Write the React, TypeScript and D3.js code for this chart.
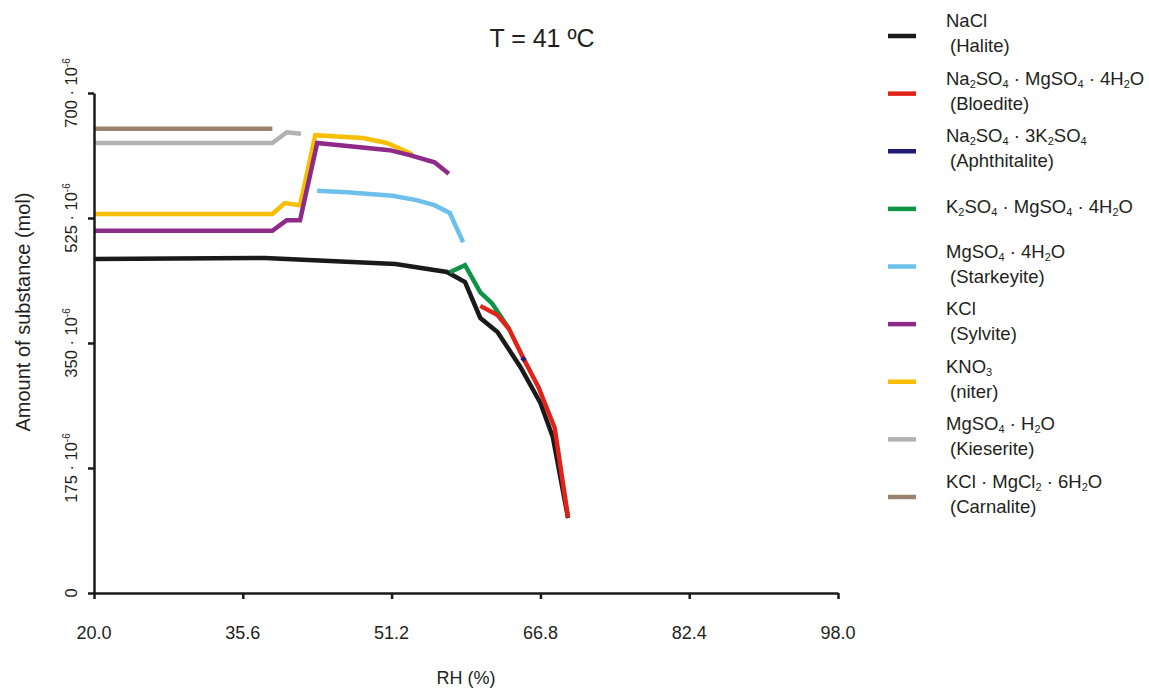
import React, { useEffect, useRef } from "react";
import * as d3 from "d3";

// RH (%) vs amount of substance (10^-6 mol)
const halite = [[20, 467.6], [37.9, 469], [51.6, 460.6], [57.0, 449.4], [58.9, 435.4], [60.5, 385], [62.3, 365.4], [64.7, 316.4], [66.8, 266], [68.1, 218.4], [69.7, 105]];
const bloedite = [[60.5, 402], [62.3, 389], [63.5, 370], [65.0, 329], [66.6, 288], [68.3, 231], [69.7, 106]];
const aphthitalite = [[64.85, 329.5], [65.2, 325.5]];
const leonite = [[57.3, 449], [58.9, 459], [60.5, 421], [61.7, 406], [63.5, 370]];
const starkeyite = [[43.4, 563], [46.5, 561], [51.3, 556], [53.8, 550], [55.7, 543], [57.3, 532], [58.7, 491]];
const sylvite = [[20, 507], [38.7, 507], [40.2, 522], [41.6, 522], [43.4, 630], [51.0, 620], [53.1, 613], [55.7, 603], [57.2, 587]];
const niter = [[20, 530.6], [38.7, 530.6], [40.0, 546], [41.6, 543], [43.2, 641], [48.2, 637], [50.7, 630], [52.4, 620], [53.4, 614]];
const kieserite = [[20, 630], [38.7, 630], [40.2, 645], [41.7, 643]];
const carnalite = [[20, 650], [38.7, 650]];

const xTicks = [20, 35.6, 51.2, 66.8, 82.4, 98];
const yTicks = [0, 175, 350, 525, 700];

// name uses _n for subscripts
const legendItems = [
  { name: "NaCl", mineral: "(Halite)", color: "#1a1a1a" },
  { name: "Na_2SO_4 · MgSO_4 · 4H_2O", mineral: "(Bloedite)", color: "#e2231a" },
  { name: "Na_2SO_4 · 3K_2SO_4", mineral: "(Aphthitalite)", color: "#1f1a74" },
  { name: "K_2SO_4 · MgSO_4 · 4H_2O", mineral: "", color: "#0f9447" },
  { name: "MgSO_4 · 4H_2O", mineral: "(Starkeyite)", color: "#6cc0eb" },
  { name: "KCl", mineral: "(Sylvite)", color: "#8e2a88" },
  { name: "KNO_3", mineral: "(niter)", color: "#f7bf00" },
  { name: "MgSO_4 · H_2O", mineral: "(Kieserite)", color: "#b2b2b2" },
  { name: "KCl · MgCl_2 · 6H_2O", mineral: "(Carnalite)", color: "#9b846f" },
];

// draw order (back to front)
const seriesOrder = [
  { data: carnalite, color: "#9b846f" },
  { data: kieserite, color: "#b2b2b2" },
  { data: niter, color: "#f7bf00" },
  { data: sylvite, color: "#8e2a88" },
  { data: starkeyite, color: "#6cc0eb" },
  { data: halite, color: "#1a1a1a" },
  { data: leonite, color: "#0f9447" },
  { data: bloedite, color: "#e2231a" },
  { data: aphthitalite, color: "#1f1a74" },
];

const font = "'Liberation Sans', Arial, sans-serif";
const ink = "#231f20";

const App = () => {
  const ref = useRef(null);

  useEffect(() => {
    drawChart();
  }, []);

  const drawChart = () => {
    const svg = d3.select(ref.current);
    svg.selectAll("*").remove();

    const x = d3.scaleLinear().domain([20, 98]).range([94, 838]);
    const y = d3.scaleLinear().domain([0, 700]).range([593, 93]);

    // title
    svg.append("text")
      .attr("x", 542).attr("y", 47)
      .attr("text-anchor", "middle")
      .attr("font-size", 25)
      .attr("font-family", font)
      .attr("fill", ink)
      .text("T = 41 ºC");

    // lines
    const line = d3.line().x((d) => x(d[0])).y((d) => y(d[1]));
    svg.append("g")
      .selectAll("path")
      .data(seriesOrder)
      .enter()
      .append("path")
      .attr("d", (d) => line(d.data))
      .attr("fill", "none")
      .attr("stroke", (d) => d.color)
      .attr("stroke-width", 4.5);

    // x axis
    const gx = svg.append("g")
      .attr("transform", `translate(0,${y(0)})`)
      .call(d3.axisBottom(x).tickValues(xTicks).tickSize(6).tickSizeOuter(0).tickFormat(""));
    gx.select(".domain").attr("stroke", "#1a1a1a").attr("stroke-width", 2.5);
    gx.selectAll(".tick line").attr("stroke", "#1a1a1a").attr("stroke-width", 2.5);

    svg.append("g")
      .selectAll("text")
      .data(xTicks)
      .enter()
      .append("text")
      .attr("x", (d) => x(d))
      .attr("y", 639)
      .attr("text-anchor", "middle")
      .attr("font-size", 18)
      .attr("font-family", font)
      .attr("fill", ink)
      .text((d) => d3.format(".1f")(d));

    // y axis
    const gy = svg.append("g")
      .attr("transform", `translate(${x(20)},0)`)
      .call(d3.axisLeft(y).tickValues(yTicks).tickSize(6).tickSizeOuter(0).tickFormat(""));
    gy.select(".domain").attr("stroke", "#1a1a1a").attr("stroke-width", 2.5);
    gy.selectAll(".tick line").attr("stroke", "#1a1a1a").attr("stroke-width", 2.5);

    const yl = svg.append("g")
      .selectAll("text")
      .data(yTicks)
      .enter()
      .append("text")
      .attr("transform", (d) => `translate(77,${y(d)}) rotate(-90)`)
      .attr("text-anchor", "middle")
      .attr("font-size", 16.5)
      .attr("font-family", font)
      .attr("fill", ink);
    yl.append("tspan").text((d) => (d === 0 ? "0" : `${d} · 10`));
    yl.filter((d) => d !== 0)
      .append("tspan")
      .attr("dy", -7)
      .attr("font-size", 10)
      .text("-6");

    // axis titles
    svg.append("text")
      .attr("transform", "translate(30,312) rotate(-90)")
      .attr("text-anchor", "middle")
      .attr("font-size", 20)
      .attr("font-family", font)
      .attr("fill", ink)
      .text("Amount of substance (mol)");

    svg.append("text")
      .attr("x", 466).attr("y", 684)
      .attr("text-anchor", "middle")
      .attr("font-size", 18)
      .attr("font-family", font)
      .attr("fill", ink)
      .text("RH (%)");

    // legend
    const legendY = d3.scalePoint().domain(legendItems.map((d) => d.name)).range([36, 497]);
    const lg = svg.append("g")
      .selectAll("g")
      .data(legendItems)
      .enter()
      .append("g")
      .attr("transform", (d) => `translate(0,${legendY(d.name)})`);

    lg.append("line")
      .attr("x1", 888).attr("x2", 916)
      .attr("stroke", (d) => d.color)
      .attr("stroke-width", 4.5);

    lg.each(function (d) {
      const g = d3.select(this);
      const t = g.append("text")
        .attr("x", 946)
        .attr("y", d.mineral ? -9 : 4)
        .attr("font-size", 18.5)
        .attr("font-family", font)
        .attr("fill", ink)
        .attr("xml:space", "preserve");
      const parts = d.name.split(/_(\d)/);
      let shifted = false;
      parts.forEach((p, i) => {
        if (!p) return;
        const sub = i % 2 === 1;
        const ts = t.append("tspan").text(p);
        if (sub) {
          ts.attr("font-size", 11).attr("dy", 3);
          shifted = true;
        } else if (shifted) {
          ts.attr("dy", -3);
          shifted = false;
        }
      });
      if (d.mineral) {
        g.append("text")
          .attr("x", 950)
          .attr("y", 16)
          .attr("font-size", 18.5)
          .attr("font-family", font)
          .attr("fill", ink)
          .text(d.mineral);
      }
    });
  };

  return (
    <div>
      <svg
        ref={ref}
        width="1149"
        height="688"
        style={{ position: "absolute", left: 0, top: 0, background: "#fff" }}
      ></svg>
    </div>
  );
};

export default App;
